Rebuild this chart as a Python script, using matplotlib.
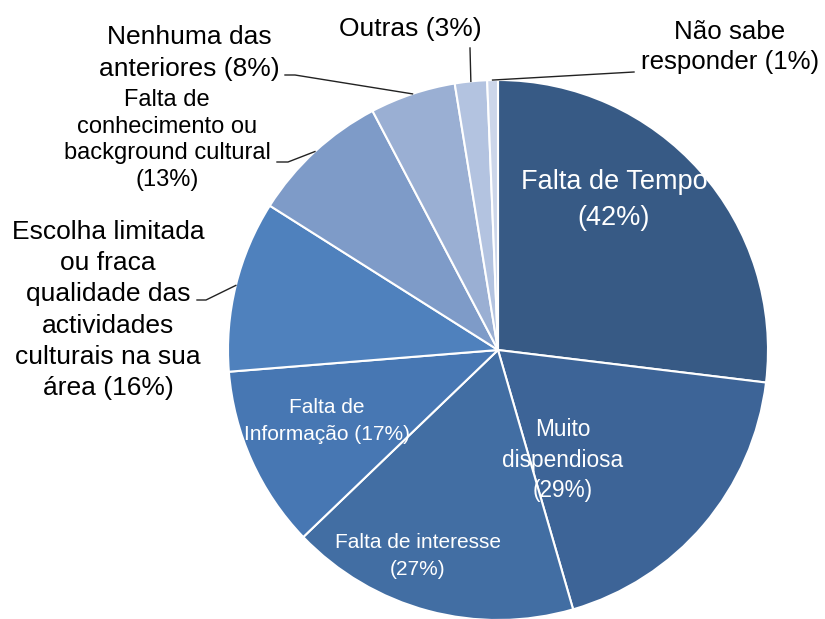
import matplotlib

matplotlib.use("Agg")
import matplotlib.pyplot as plt
import numpy as np


W, H = 825, 619

categories = [
    "Falta de Tempo",
    "Muito dispendiosa",
    "Falta de interesse",
    "Falta de Informação",
    "Escolha limitada ou fraca qualidade das actividades culturais na sua área",
    "Falta de conhecimento ou background cultural",
    "Nenhuma das anteriores",
    "Outras",
    "Não sabe responder",
]
values = [42, 29, 27, 17, 16, 13, 8, 3, 1]
label_texts = [
    "Falta de Tempo\n(42%)",
    "Muito\ndispendiosa\n(29%)",
    "Falta de interesse\n(27%)",
    "Falta de\nInformação (17%)",
    "Escolha limitada\nou fraca\nqualidade das\nactividades\nculturais na sua\nárea (16%)",
    "Falta de\nconhecimento ou\nbackground cultural\n(13%)",
    "Nenhuma das\nanteriores (8%)",
    "Outras (3%)",
    "Não sabe\nresponder (1%)",
]
colors = [
    "#375a85", "#3d6497", "#426ea3", "#4777b3", "#4f81bd",
    "#7e9bc8", "#9aafd3", "#b3c3e0", "#ccd6ea",
]

# layout in image pixels (y measured from top)
CENTER = (498, 350)
RADIUS = 270

# (x, y, size, colour, linespacing)
label_pos = [
    (614, 200, 19.5, "white", 1.48),
    (563, 460, 16.3, "white", 1.4),
    (418, 556, 15, "white", 1.58),
    (327, 421, 15, "white", 1.58),
    (108, 310, 19, "black", 1.38),
    (167, 140, 17, "black", 1.27),
    (189, 53, 19, "black", 1.37),
    (410, 29, 19, "black", 1.2),
    (730, 47, 18.6, "black", 1.29),
]
# leader lines: label-side points, the wedge edge is appended
leaders = {
    4: [(197, 300), (206, 300)],
    5: [(277, 162), (288, 162)],
    6: [(285, 75), (295, 75)],
    7: [(470, 48)],
    8: [(634, 72)],
}


def py(y):
    return H - y


def main():
    plt.rcParams["font.family"] = ["Liberation Sans", "DejaVu Sans"]

    fig = plt.figure(figsize=(W / 100, H / 100), dpi=100)
    ax = fig.add_axes([0, 0, 1, 1])

    wedges, _ = ax.pie(
        values,
        colors=colors,
        startangle=90,
        counterclock=False,
        radius=RADIUS,
        center=(CENTER[0], py(CENTER[1])),
        wedgeprops={"edgecolor": "white", "linewidth": 1.5},
    )
    ax.set_xlim(0, W)
    ax.set_ylim(0, H)
    ax.axis("off")

    for text, (x, y, size, color, ls) in zip(label_texts, label_pos):
        ax.text(
            x, py(y), text,
            ha="center", va="center",
            fontsize=size, color=color,
            linespacing=ls,
        )

    for i, pts in leaders.items():
        w = wedges[i]
        mid = np.deg2rad((w.theta1 + w.theta2) / 2)
        ex = CENTER[0] + RADIUS * np.cos(mid)
        ey = py(CENTER[1]) + RADIUS * np.sin(mid)
        xs = [p[0] for p in pts] + [ex]
        ys = [py(p[1]) for p in pts] + [ey]
        ax.plot(xs, ys, color="#222222", linewidth=1.0)

    fig.savefig("out.png", dpi=100)
    plt.close(fig)


if __name__ == "__main__":
    main()
